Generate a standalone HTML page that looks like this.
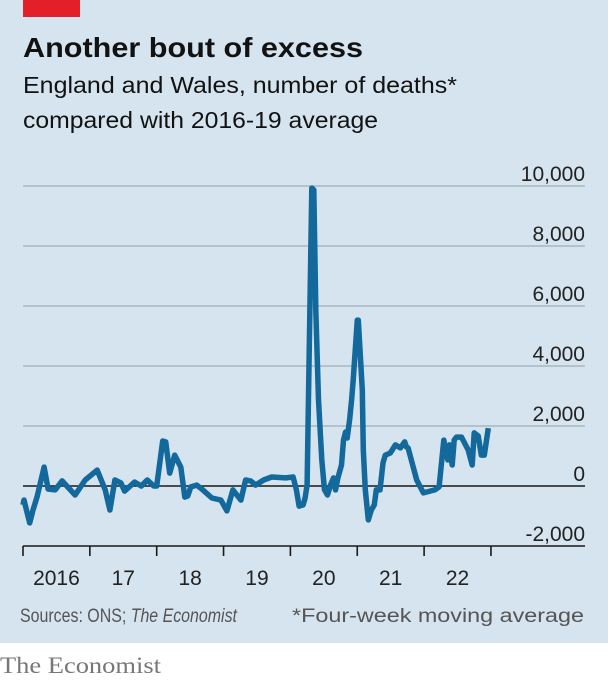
<!DOCTYPE html>
<html><head><meta charset="utf-8"><style>
html,body{margin:0;padding:0;background:#fff}
svg{display:block}
text{font-family:"Liberation Sans",sans-serif}
</style></head><body>
<svg id="chart" width="608" height="681" viewBox="0 0 608 681" xmlns="http://www.w3.org/2000/svg">
<rect x="0" y="0" width="608" height="643" fill="#d5e4ee"/>
<rect x="23" y="0" width="57" height="17" fill="#e3202a"/>
<text x="23" y="57" font-size="28" font-weight="bold" fill="#121212" textLength="340" lengthAdjust="spacingAndGlyphs">Another bout of excess</text>
<text x="23" y="93" font-size="23" fill="#121212" textLength="434" lengthAdjust="spacingAndGlyphs">England and Wales, number of deaths*</text>
<text x="23" y="128" font-size="23" fill="#121212" textLength="355" lengthAdjust="spacingAndGlyphs">compared with 2016-19 average</text>
<g id="grid"></g>
<g id="xaxis"></g>
<g id="series"></g>
<text x="20" y="622" font-size="19" fill="#555" textLength="217" lengthAdjust="spacingAndGlyphs">Sources: ONS; <tspan font-style="italic">The Economist</tspan></text>
<text x="292" y="622" font-size="19" fill="#555" textLength="292" lengthAdjust="spacingAndGlyphs">*Four-week moving average</text>
<text x="0" y="673" font-size="23" fill="#777" style="font-family:'Liberation Serif',serif" textLength="161" lengthAdjust="spacingAndGlyphs">The Economist</text>
</svg>
<script>
const yTicks=[10000,8000,6000,4000,2000,0,-2000];
const yTickLabels=["10,000","8,000","6,000","4,000","2,000","0","-2,000"];
const xYears=[2016,2017,2018,2019,2020,2021,2022,2023];
const xYearLabels=["2016","17","18","19","20","21","22"];
const dates=[2016.00,2016.015,2016.10,2016.15,2016.21,2016.315,2016.375,2016.48,2016.585,2016.78,2016.93,2017.11,2017.23,2017.30,2017.375,2017.465,2017.52,2017.67,2017.77,2017.86,2017.955,2018.00,2018.09,2018.135,2018.195,2018.27,2018.36,2018.42,2018.465,2018.51,2018.60,2018.69,2018.825,2018.96,2019.05,2019.14,2019.26,2019.33,2019.405,2019.48,2019.60,2019.72,2019.93,2020.04,2020.09,2020.13,2020.19,2020.22,2020.25,2020.32,2020.35,2020.38,2020.42,2020.47,2020.51,2020.555,2020.60,2020.645,2020.675,2020.71,2020.765,2020.795,2020.825,2020.85,2020.885,2020.915,2020.94,2021.00,2021.015,2021.075,2021.09,2021.12,2021.165,2021.21,2021.255,2021.285,2021.34,2021.385,2021.42,2021.495,2021.57,2021.645,2021.71,2021.735,2021.76,2021.89,2021.99,2022.16,2022.225,2022.295,2022.355,2022.38,2022.42,2022.45,2022.485,2022.56,2022.66,2022.72,2022.75,2022.81,2022.855,2022.90,2022.96,2023.00];
const values=[-630,-470,-1230,-800,-370,630,-100,-130,170,-300,200,530,-130,-800,200,100,-170,130,0,200,0,0,1500,1470,430,1030,630,-370,-330,-30,30,-130,-400,-470,-830,-130,-470,200,170,30,200,300,270,300,-130,-670,-630,-400,30,9930,9870,5870,2870,870,-130,-300,30,270,-130,270,700,1530,1800,1600,2200,2870,3530,5530,5530,3200,1200,-130,-1130,-800,-630,-130,-130,770,1030,1100,1370,1270,1470,1300,1270,200,-230,-130,-30,1530,870,1370,700,1530,1630,1630,1200,700,1770,1670,1030,1030,1930];
const NS='http://www.w3.org/2000/svg';
const x=d=>23+(d-2016)*66.85;
const y=v=>486-v*0.03;
const grid=document.getElementById('grid');
yTicks.forEach((t,i)=>{
  const l=document.createElementNS(NS,'line');
  
  
  l.setAttribute('x1',23);l.setAttribute('x2',585);
  l.setAttribute('y1',y(t));l.setAttribute('y2',y(t));
  const base=(t===0);
  l.setAttribute('stroke',base?'#1a1a1a':'#a9b6bf');
  l.setAttribute('stroke-width',1.6);
  if(t!==-2000)grid.appendChild(l);
  const tx=document.createElementNS(NS,'text');
  
  
  tx.setAttribute('x',585);tx.setAttribute('y',y(t)-5);
  tx.setAttribute('text-anchor','end');tx.setAttribute('font-size','21');tx.setAttribute('fill','#222');
  tx.textContent=yTickLabels[i];
  grid.appendChild(tx);
});
const xa=document.getElementById('xaxis');
const ax=document.createElementNS(NS,'line');


ax.setAttribute('x1',23);ax.setAttribute('x2',585);ax.setAttribute('y1',y(-2000));ax.setAttribute('y2',y(-2000));
ax.setAttribute('stroke','#1a1a1a');ax.setAttribute('stroke-width',1.6);
xa.appendChild(ax);
xYears.forEach(yr=>{
  const t=document.createElementNS(NS,'line');
  
  
  t.setAttribute('x1',x(yr));t.setAttribute('x2',x(yr));t.setAttribute('y1',y(-2000));t.setAttribute('y2',y(-2000)+10);
  t.setAttribute('stroke','#1a1a1a');t.setAttribute('stroke-width',1.6);
  xa.appendChild(t);
});
xYearLabels.forEach((lb,i)=>{
  const t=document.createElementNS(NS,'text');
  
  
  t.setAttribute('x',x(xYears[i]+0.5));t.setAttribute('y',585);
  t.setAttribute('text-anchor','middle');t.setAttribute('font-size','21');t.setAttribute('fill','#222');
  t.textContent=lb;
  xa.appendChild(t);
});
const p=document.createElementNS(NS,'path');


p.setAttribute('d',dates.map((d,i)=>(i?'L':'M')+x(d).toFixed(1)+','+y(values[i]).toFixed(1)).join(''));
p.setAttribute('fill','none');p.setAttribute('stroke','#13689c');p.setAttribute('stroke-width','5.5');
p.setAttribute('stroke-linejoin','round');
document.getElementById('series').appendChild(p);
</script>
</body></html>
